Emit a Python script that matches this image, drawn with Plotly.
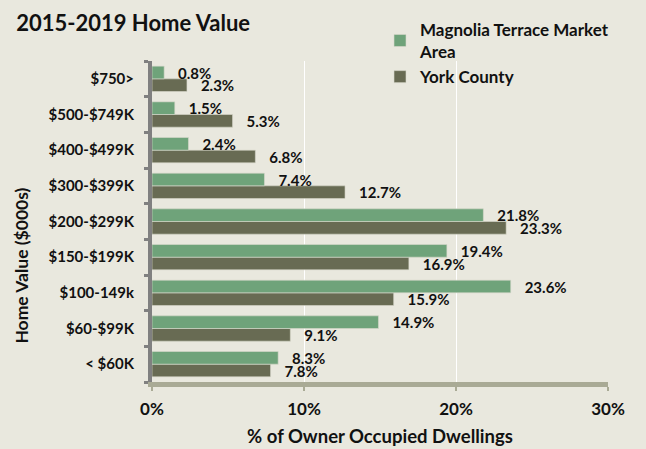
import plotly.graph_objects as go

categories = ["< $60K", "$60-$99K", "$100-149k", "$150-$199K", "$200-$299K",
              "$300-$399K", "$400-$499K", "$500-$749K", "$750>"]
magnolia = [8.3, 14.9, 23.6, 19.4, 21.8, 7.4, 2.4, 1.5, 0.8]
york = [7.8, 9.1, 15.9, 16.9, 23.3, 12.7, 6.8, 5.3, 2.3]
x_ticks = [0, 10, 20, 30]
x_tick_labels = ["0%", "10%", "20%", "30%"]

FONT = "Lato"
bg = "#E9E8DE"
label_font = dict(family=FONT, size=15, color="#111111", weight="bold")

fig = go.Figure()
fig.add_trace(go.Bar(
    y=categories, x=york, orientation="h", name="York County",
    marker=dict(color="#686B53", line=dict(color="#D8D8CC", width=0.6)),
    text=[f"{v:.1f}%" for v in york], texttemplate="   %{text}",
    textposition="outside", cliponaxis=False, constraintext="none",
    textfont=label_font,
))
fig.add_trace(go.Bar(
    y=categories, x=magnolia, orientation="h", name="Magnolia Terrace Market<br>Area",
    marker=dict(color="#6FA37A", line=dict(color="#D8D8CC", width=0.6)),
    text=[f"{v:.1f}%" for v in magnolia], texttemplate="   %{text}",
    textposition="outside", cliponaxis=False, constraintext="none",
    textfont=label_font,
))

fig.update_layout(
    width=646, height=449,
    paper_bgcolor=bg, plot_bgcolor=bg,
    margin=dict(l=152, r=38, t=40, b=67),
    barmode="group", bargap=0.29, bargroupgap=0,
    font=dict(family=FONT, size=13, color="#111111", weight="bold"),
    title=dict(text="<b>2015-2019 Home Value</b>", x=0.025, xanchor="left",
               y=0.948, yanchor="middle",
               font=dict(family=FONT, size=22, color="#111111")),
    legend=dict(x=0.50, y=1.153, xanchor="left", yanchor="top",
                traceorder="reversed", bgcolor="rgba(0,0,0,0)",
                font=dict(family=FONT, size=17, color="#111111", weight="bold"),
                itemwidth=30, tracegroupgap=0),
    showlegend=True,
    annotations=[dict(text="Home Value ($000s)", textangle=-90,
                      xref="paper", yref="paper", x=-0.287, y=0.363,
                      xanchor="center", yanchor="middle", showarrow=False,
                      font=dict(family=FONT, size=17.5, color="#111111", weight="bold"))],
)
fig.update_xaxes(
    range=[0, 30], tickvals=x_ticks, ticktext=x_tick_labels,
    showgrid=True, gridcolor="#FFFFFF", gridwidth=1,
    zeroline=False, showline=True, linecolor="#A9AA95", linewidth=5,
    ticks="outside", ticklen=4, tickwidth=2, tickcolor="#A9AA95",
    tickfont=dict(family=FONT, size=17, weight="bold"),
    ticklabelstandoff=4, automargin=False,
    title=dict(text="% of Owner Occupied Dwellings", standoff=13,
               font=dict(family=FONT, size=18.5, weight="bold")),
)
fig.update_yaxes(
    categoryorder="array", categoryarray=categories,
    showgrid=False, zeroline=False, showline=True, linecolor="#808080", linewidth=4,
    ticks="outside", tickson="boundaries", ticklen=4, tickwidth=3, tickcolor="#808080",
    tickfont=dict(family=FONT, size=15, weight="bold"),
    ticklabelstandoff=11, automargin=False,
)

fig.write_html("out.html", config={"displayModeBar": False},
               post_script="document.body.style.margin='0';")
